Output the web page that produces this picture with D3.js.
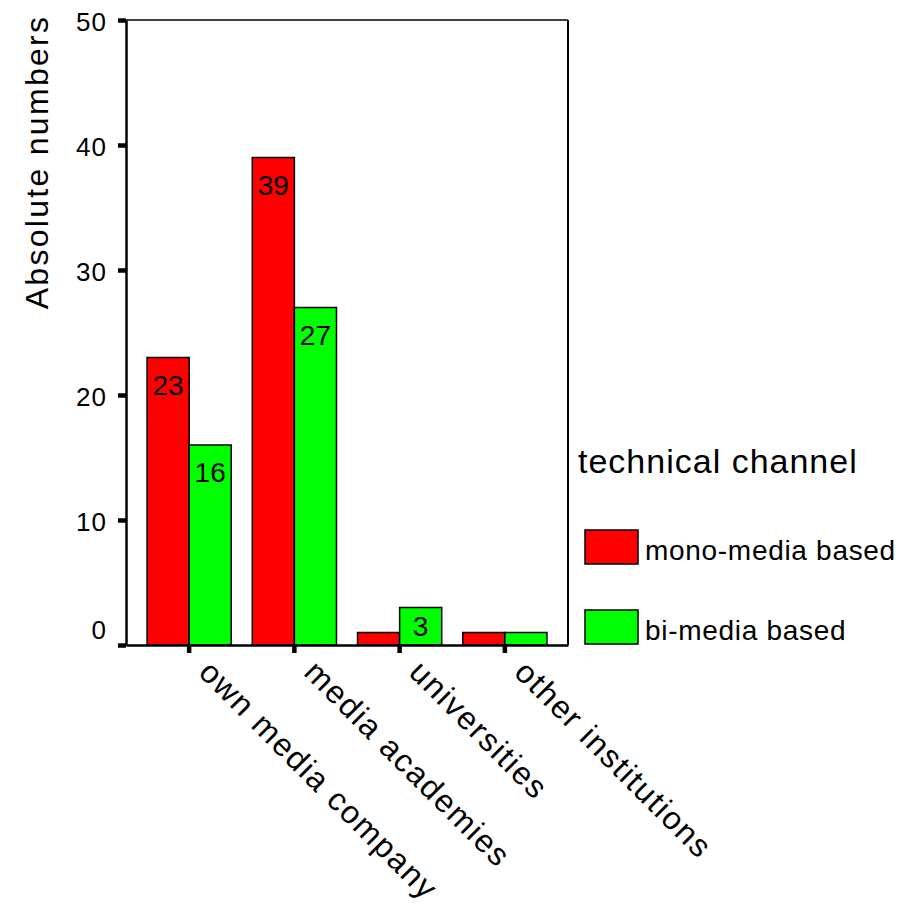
<!DOCTYPE html>
<html>
<head>
<meta charset="utf-8">
<script src="https://cdn.jsdelivr.net/npm/d3@7"></script>
<style>
  html, body { margin: 0; padding: 0; background: #fff; }
  svg { display: block; font-family: "Liberation Sans", Arial, sans-serif; }
</style>
</head>
<body>
<svg id="chart" width="899" height="910"></svg>
<script>
const categories = ["own media company", "media academies", "universities", "other institutions"];
const seriesNames = ["mono-media based", "bi-media based"];
const monoValues = [23, 39, 1, 1];
const biValues = [16, 27, 3, 1];
const yTicks = [0, 10, 20, 30, 40, 50];
const colors = ["#ff0000", "#00ff00"];
const legendTitle = "technical channel";
const yTitle = "Absolute numbers";

const svg = d3.select("#chart");
const mLeft = 126, mRight = 568, mTop = 20, mBottom = 645;

const y = d3.scaleLinear().domain([0, 50]).range([mBottom, mTop]);
const x = d3.scaleBand().domain(categories).range([mLeft, mRight]).paddingInner(0.2).paddingOuter(0.2);
const xs = d3.scaleBand().domain(seriesNames).range([0, x.bandwidth()]);

const data = categories.map((c, i) => ({cat: c, vals: [monoValues[i], biValues[i]]}));

// frame (top + right)
svg.append("line").attr("x1", mLeft).attr("x2", mRight).attr("y1", mTop).attr("y2", mTop)
  .attr("stroke", "#000").attr("stroke-width", 1.5);
svg.append("line").attr("x1", mRight).attr("x2", mRight).attr("y1", mTop).attr("y2", mBottom)
  .attr("stroke", "#000").attr("stroke-width", 2);

// bars
const groups = svg.append("g").selectAll("g").data(data).join("g")
  .attr("transform", d => `translate(${x(d.cat)},0)`);
groups.selectAll("rect").data(d => d.vals.map((v, j) => ({v, s: seriesNames[j], j})))
  .join("rect")
  .attr("x", d => xs(d.s))
  .attr("y", d => y(d.v))
  .attr("width", xs.bandwidth())
  .attr("height", d => y(0) - y(d.v))
  .attr("fill", d => colors[d.j])
  .attr("stroke", "#000").attr("stroke-width", 1.5);

// value labels
groups.selectAll("text").data(d => d.vals.map((v, j) => ({v, s: seriesNames[j], j})).filter(d => d.v > 1))
  .join("text")
  .attr("x", d => xs(d.s) + xs.bandwidth() / 2)
  .attr("y", d => Math.min(y(d.v) + 37, (y(d.v) + y(0)) / 2 + 10))
  .attr("text-anchor", "middle")
  .attr("font-size", 28)
  .attr("fill", "#000")
  .text(d => d.v);

// y axis
const yAxis = svg.append("g").attr("transform", `translate(${mLeft},0)`)
  .call(d3.axisLeft(y).tickValues(yTicks).tickSize(8).tickPadding(11).tickSizeOuter(0));
yAxis.select(".domain").attr("stroke-width", 2.5);
yAxis.selectAll(".tick line").attr("stroke-width", 4.5);
yAxis.selectAll(".tick text").attr("font-size", 26).attr("font-family", "Liberation Sans, Arial, sans-serif")
  .attr("letter-spacing", 1)
  .attr("dy", d => d === 0 ? "-0.25em" : "0.4em");

// x axis
const xAxis = svg.append("g").attr("transform", `translate(0,${mBottom})`)
  .call(d3.axisBottom(x).tickSize(8).tickSizeOuter(0).tickFormat(""));
xAxis.select(".domain").attr("stroke-width", 2.5);
xAxis.selectAll(".tick line").attr("stroke-width", 4.5);

// x labels rotated
svg.append("g").selectAll("text").data(categories).join("text")
  .attr("transform", d => `translate(${x(d) + x.bandwidth() / 2 + 8},${mBottom + 29}) rotate(45)`)
  .attr("text-anchor", "start")
  .attr("font-size", 32)
  .attr("letter-spacing", 1.7)
  .text(d => d);

// y title
svg.append("text")
  .attr("transform", `translate(48,162) rotate(-90)`)
  .attr("text-anchor", "middle")
  .attr("font-size", 32)
  .attr("letter-spacing", 2.3)
  .text(yTitle);

// legend
svg.append("text").attr("x", 578).attr("y", 473).attr("font-size", 34).attr("letter-spacing", 1).text(legendTitle);
const leg = svg.append("g").selectAll("g").data(seriesNames).join("g")
  .attr("transform", (d, i) => `translate(585,${530 + i * 80})`);
leg.append("rect").attr("width", 53).attr("height", 34)
  .attr("fill", (d, i) => colors[i]).attr("stroke", "#000").attr("stroke-width", 1.5);
leg.append("text").attr("x", 60).attr("y", 30).attr("font-size", 28).attr("letter-spacing", 0.7).text(d => d);
</script>
</body>
</html>
